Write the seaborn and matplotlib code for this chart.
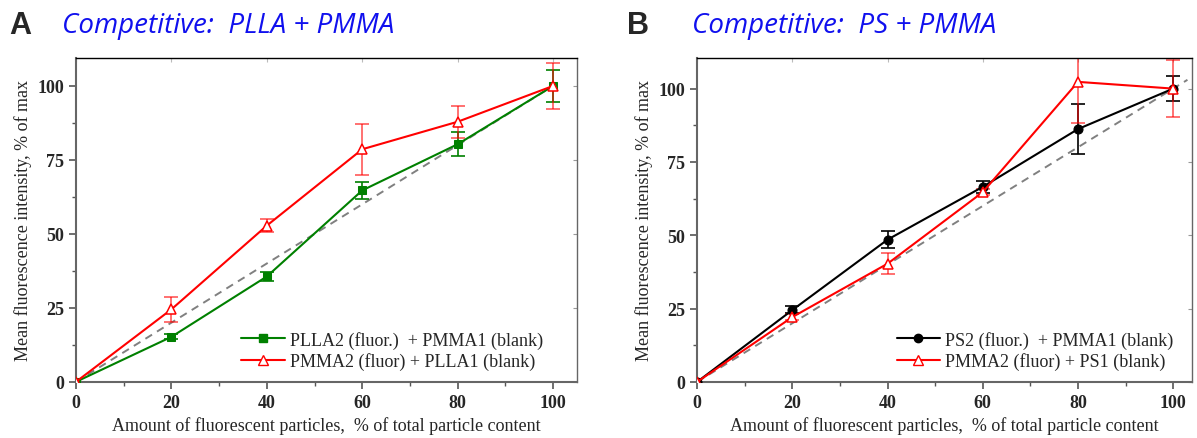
import numpy as np
import pandas as pd
import seaborn as sns
import matplotlib

matplotlib.use("Agg")
import matplotlib.pyplot as plt
from matplotlib.ticker import MultipleLocator

# data
x_pct = [0, 20, 40, 60, 80, 100]

plla_fluor = [0, 15.2, 35.6, 64.7, 80.3, 100]
plla_fluor_err = [0, 0.9, 1.6, 2.9, 4.1, 5.3]
pmma_fluor_a = [0, 24.5, 52.8, 78.6, 87.9, 100]
pmma_fluor_a_err = [0, 4.2, 2.2, 8.6, 5.4, 7.7]

ps_fluor = [0, 24.5, 48.5, 66.5, 86.2, 100]
ps_fluor_err = [0, 1.2, 3.0, 2.0, 8.6, 4.3]
pmma_fluor_b = [0, 22.1, 40.3, 64.7, 102.3, 100]
pmma_fluor_b_err = [0, 1.0, 3.5, 1.0, 14.0, 9.6]

ref_a = [0, 100]
ref_b = [0, 103]

serif = "Liberation Serif"


def draw_panel(ax, s1, e1, lab1, c1, m1, s2, e2, lab2, ref, xmax, ymax, leg_x):
    ax.plot(ref, ref, ls=(0, (4, 3)), color="grey", lw=1.4, zorder=1)
    ax.errorbar(x_pct, s1, yerr=e1, fmt="none", ecolor=c1, elinewidth=1.2,
                capsize=5, capthick=1.2, zorder=2)
    ax.errorbar(x_pct, s2, yerr=e2, fmt="none", ecolor="red", alpha=0.65,
                elinewidth=1.2, capsize=5, capthick=1.2, zorder=2)
    sns.lineplot(x=x_pct, y=s1, color=c1, marker=m1, markersize=6.5 if m1 == "o" else 6,
                 markeredgecolor=c1, lw=1.5, ax=ax, zorder=3)
    sns.lineplot(x=x_pct, y=s2, color="red", marker="^", markersize=7,
                 markerfacecolor="white", markeredgecolor="red",
                 markeredgewidth=1.1, lw=1.5, ax=ax, zorder=4)
    h1 = plt.Line2D([], [], color=c1, marker=m1, lw=1.5, ms=6)
    h2 = plt.Line2D([], [], color="red", marker="^", lw=1.5, ms=7,
                    mfc="white")
    ax.legend([h1, h2], [lab1, lab2], loc="lower right", frameon=False,
              bbox_to_anchor=(leg_x, 0.0),
              prop={"family": serif, "size": 13}, handlelength=2.4,
              handletextpad=0.3, borderaxespad=0.25, labelspacing=0.2)

    ax.set_xlim(0, xmax)
    ax.set_ylim(0, ymax)
    ax.xaxis.set_major_locator(MultipleLocator(20))
    ax.xaxis.set_minor_locator(MultipleLocator(10))
    ax.yaxis.set_major_locator(MultipleLocator(25))
    ax.yaxis.set_minor_locator(MultipleLocator(12.5))
    ax.tick_params(which="both", direction="out", color="#555555",
                   top=False, right=False)
    ax.tick_params(which="major", length=5, width=1.2)
    ax.tick_params(which="minor", length=3, width=1.0)
    # faint inward ticks on the top and right frame
    sec_x = ax.secondary_xaxis("top")
    sec_x.xaxis.set_major_locator(MultipleLocator(20))
    sec_x.tick_params(direction="in", length=3, color="#bbbbbb",
                      labeltop=False)
    sec_x.spines["top"].set_visible(False)
    sec_y = ax.secondary_yaxis("right")
    sec_y.yaxis.set_major_locator(MultipleLocator(25))
    sec_y.tick_params(direction="in", length=3, color="#999999",
                      labelright=False)
    sec_y.spines["right"].set_visible(False)
    for lbl in ax.get_xticklabels() + ax.get_yticklabels():
        lbl.set_family(serif)
        lbl.set_fontweight("bold")
        lbl.set_fontsize(13)
    ax.set_xlabel("Amount of fluorescent particles,  % of total particle content",
                  family=serif, fontsize=13)
    ax.set_ylabel("Mean fluorescence intensity, % of max", family=serif,
                  fontsize=13)
    for side in ["top", "right"]:
        ax.spines[side].set_visible(True)
        ax.spines[side].set_linewidth(1.0)
    ax.spines["top"].set_color("black")
    ax.spines["right"].set_color("#666666")
    ax.spines["left"].set_color("#666666")
    ax.spines["bottom"].set_color("#666666")
    ax.spines["left"].set_linewidth(1.5)
    ax.spines["bottom"].set_linewidth(1.5)


sns.set_style("ticks")
fig = plt.figure(figsize=(11.97, 4.39), dpi=100)
ax_a = fig.add_axes([0.0635, 0.128, 0.4185, 0.738])
ax_b = fig.add_axes([0.5825, 0.128, 0.4135, 0.738])

draw_panel(ax_a, plla_fluor, plla_fluor_err, "PLLA2 (fluor.)  + PMMA1 (blank)",
           "green", "s", pmma_fluor_a, pmma_fluor_a_err,
           "PMMA2 (fluor) + PLLA1 (blank)", ref_a, 105, 109.5, 0.956)
draw_panel(ax_b, ps_fluor, ps_fluor_err, "PS2 (fluor.)  + PMMA1 (blank)",
           "black", "o", pmma_fluor_b, pmma_fluor_b_err,
           "PMMA2 (fluor) + PS1 (blank)", ref_b, 104, 110.5, 0.986)

fig.text(0.008, 0.94, "A", fontsize=22, fontweight="bold",
         family="Liberation Sans", va="center")
fig.text(0.524, 0.94, "B", fontsize=22, fontweight="bold",
         family="Liberation Sans", va="center")
fig.text(0.052, 0.94, "Competitive:  PLLA + PMMA", fontsize=20,
         color="#1010ee", style="italic", family="Open Sans", va="center")
fig.text(0.578, 0.94, "Competitive:  PS + PMMA", fontsize=20,
         color="#1010ee", style="italic", family="Open Sans", va="center")

fig.savefig("out.png", dpi=100)
